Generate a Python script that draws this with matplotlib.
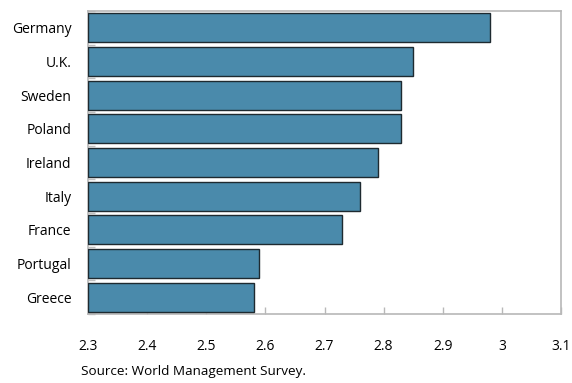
import numpy as np
import matplotlib.pyplot as plt

plt.rcParams['font.family'] = ['Open Sans', 'DejaVu Sans']

countries = ['Germany', 'U.K.', 'Sweden', 'Poland', 'Ireland', 'Italy', 'France', 'Portugal', 'Greece']
scores = [2.98, 2.85, 2.83, 2.83, 2.79, 2.76, 2.73, 2.59, 2.58]
xticks = [2.3, 2.4, 2.5, 2.6, 2.7, 2.8, 2.9, 3.0, 3.1]
xtick_labels = ['2.3', '2.4', '2.5', '2.6', '2.7', '2.8', '2.9', '3', '3.1']

fig = plt.figure(figsize=(5.72, 3.83), dpi=100)
ax = fig.add_axes([88 / 572, 1 - 314 / 383, (561 - 88) / 572, (314 - 11) / 383])

pos = np.arange(len(countries))
lefts = [2.3] * len(scores)
widths = [s - 2.3 for s in scores]
ax.barh(pos, widths, left=lefts, height=0.86, color='#4a8aab',
        edgecolor='#1e2a30', linewidth=1.0, zorder=3)

ax.set_xlim(2.3, 3.1)
ax.set_ylim(len(countries) - 0.5, -0.5)
ax.set_xticks(xticks)
ax.set_xticklabels(xtick_labels, fontsize=10)
ax.set_yticks(pos)
ax.set_yticklabels(countries, fontsize=10)

# tick marks sit on category/interval boundaries, drawn inward
ax.set_yticks(np.arange(len(countries) + 1) - 0.5, minor=True)
ax.tick_params(axis='y', which='major', length=0, pad=12)
ax.tick_params(axis='y', which='minor', direction='in', length=5, color='#c0c0c0', width=1)
ax.tick_params(axis='x', direction='in', length=5, color='#b8b8b8', width=1, pad=18)

for sp in ax.spines.values():
    sp.set_color('#b8b8b8')
    sp.set_linewidth(1.2)

fig.text(81 / 572, 1 - 371 / 383, 'Source: World Management Survey.', fontsize=9.7,
         ha='left', va='center')

fig.savefig('out.png', dpi=100)
